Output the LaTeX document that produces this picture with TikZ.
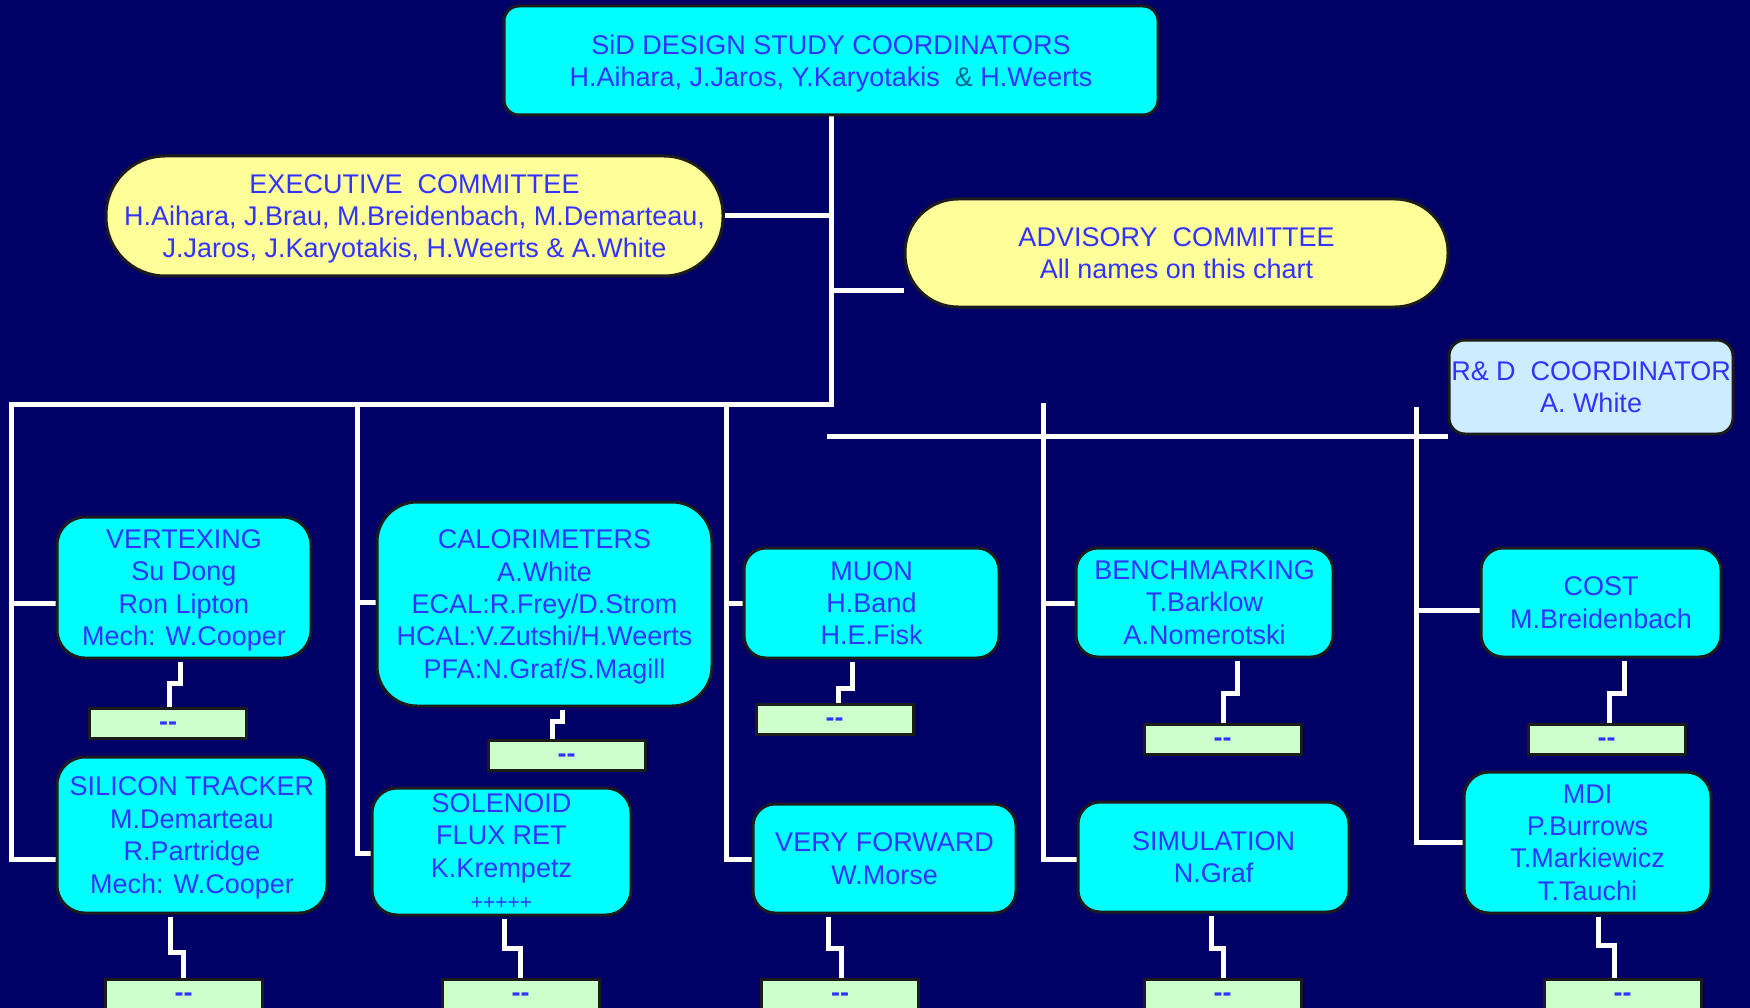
\documentclass[tikz,border=0pt]{standalone}
\usepackage{fontspec}
\setmainfont{Liberation Sans}
\usetikzlibrary{calc}
\definecolor{bgnavy}{RGB}{0,0,102}
\definecolor{txtblue}{RGB}{51,51,255}
\definecolor{boxcyan}{RGB}{0,255,255}
\definecolor{boxyellow}{RGB}{255,255,153}
\definecolor{boxrd}{RGB}{204,236,255}
\definecolor{boxgreen}{RGB}{204,255,204}
\definecolor{boxedge}{RGB}{28,28,28}
\definecolor{ampteal}{RGB}{0,102,140}
\pgfdeclarelayer{back}
\pgfsetlayers{back,main}
\tikzset{
  lbl/.style={text=txtblue, align=center, inner sep=0pt, text depth=0pt, font=\fontsize{27}{32.4}\selectfont},
  unitbox/.style={lbl, draw=boxedge, line width=3pt, fill=boxcyan},
  committee/.style={lbl, draw=boxedge, line width=3pt, fill=boxyellow},
  rdbox/.style={lbl, draw=boxedge, line width=3pt, fill=boxrd},
  taskbox/.style={lbl, draw=boxedge, line width=3pt, fill=boxgreen, minimum width=157pt, minimum height=30pt, text height=14pt, font=\fontsize{27}{32.4}\selectfont\bfseries},
  wire/.style={draw=white, line width=5pt},
}
\begin{document}
\begin{tikzpicture}[x=1pt,y=-1pt]
\useasboundingbox (0,0) rectangle (1750,1008);

% boxes
\node[unitbox, minimum width=654pt, minimum height=109pt, rounded corners=15pt] (top) at (831,60.5)
  {SiD DESIGN STUDY COORDINATORS\\H.Aihara, J.Jaros, Y.Karyotakis~~{\color{ampteal}\&} H.Weerts};
\node[committee, minimum width=617pt, minimum height=120pt, rounded corners=59pt] (exec) at (414.5,216)
  {EXECUTIVE~~COMMITTEE\\H.Aihara, J.Brau, M.Breidenbach, M.Demarteau,\\J.Jaros, J.Karyotakis, H.Weerts \& A.White};
\node[committee, minimum width=543pt, minimum height=108pt, rounded corners=53pt] (adv) at (1176.5,253)
  {ADVISORY~~COMMITTEE\\All names on this chart};
\node[rdbox, minimum width=284pt, minimum height=94pt, rounded corners=16pt] (rd) at (1591,387)
  {R\& D~~COORDINATOR\\A. White};

\node[unitbox, minimum width=254pt, minimum height=141pt, rounded corners=28pt] (vtx) at (184,587.5)
  {VERTEXING\\Su Dong\\Ron Lipton\\Mech: W.Cooper};
\node[unitbox, minimum width=270pt, minimum height=156pt, rounded corners=28pt] (sil) at (192,835)
  {SILICON TRACKER\\M.Demarteau\\R.Partridge\\Mech: W.Cooper};
\node[unitbox, minimum width=335pt, minimum height=204pt, rounded corners=40pt] (cal) at (544.5,604)
  {CALORIMETERS\\A.White\\ECAL:R.Frey/D.Strom\\HCAL:V.Zutshi/H.Weerts\\PFA:N.Graf/S.Magill};
\node[unitbox, minimum width=259pt, minimum height=127pt, rounded corners=25pt] (sol) at (501.5,851.5)
  {SOLENOID\\FLUX RET\\K.Krempetz\\{\fontsize{21}{32.4}\selectfont +++++}};
\node[unitbox, minimum width=255pt, minimum height=110pt, rounded corners=22pt] (muon) at (871.5,603)
  {MUON\\H.Band\\H.E.Fisk};
\node[unitbox, minimum width=263pt, minimum height=109pt, rounded corners=22pt] (vf) at (884.5,858.5)
  {VERY FORWARD\\W.Morse};
\node[unitbox, minimum width=257pt, minimum height=109pt, rounded corners=22pt] (bench) at (1204.5,602.5)
  {BENCHMARKING\\T.Barklow\\A.Nomerotski};
\node[unitbox, minimum width=271pt, minimum height=110pt, rounded corners=22pt] (sim) at (1213.5,857)
  {SIMULATION\\N.Graf};
\node[unitbox, minimum width=240pt, minimum height=109pt, rounded corners=22pt] (cost) at (1601,602.5)
  {COST\\M.Breidenbach};
\node[unitbox, minimum width=247pt, minimum height=141pt, rounded corners=25pt] (mdi) at (1587.5,842.5)
  {MDI\\P.Burrows\\T.Markiewicz\\T.Tauchi};

% task boxes
\node[taskbox] (g1) at (168,723) {{-}{-}};
\node[taskbox] (g2) at (566.5,755) {{-}{-}};
\node[taskbox] (g3) at (834.5,719) {{-}{-}};
\node[taskbox] (g4) at (1222.5,739) {{-}{-}};
\node[taskbox] (g5) at (1606.5,739) {{-}{-}};
\node[taskbox] (b1) at (183.5,994) {{-}{-}};
\node[taskbox] (b2) at (520.5,994) {{-}{-}};
\node[taskbox] (b3) at (840,994) {{-}{-}};
\node[taskbox] (b4) at (1222.5,994) {{-}{-}};
\node[taskbox] (b5) at (1622.5,994) {{-}{-}};

\begin{pgfonlayer}{back}
\fill[bgnavy] (0,0) rectangle (1750,1008);
% trunk and main bus
\draw[wire] (top.south) -- (top.south |- 0,404) -- (11,404) -- (11,859) -- (sil.west |- 0,859);
\draw[wire] (11,603) -- (vtx.west |- 0,603);
\draw[wire] (exec.east) -- (exec.east -| top.south);
\draw[wire] (top.south |- 0,290) -- (adv.west |- 0,290);
\draw[wire] (357.5,404) -- (357.5,853) -- (sol.west |- 0,853);
\draw[wire] (357.5,602) -- (cal.west |- 0,602);
\draw[wire] (726.5,404) -- (726.5,859) -- (vf.west |- 0,859);
\draw[wire] (726.5,603) -- (muon.west |- 0,603);
% right bus
\draw[wire] (827,436) -- (rd.west |- 0,436);
\draw[wire] (1043.5,403) -- (1043.5,859) -- (sim.west |- 0,859);
\draw[wire] (1043.5,603) -- (bench.west |- 0,603);
\draw[wire] (1416,407) -- (1416,842) -- (mdi.west |- 0,842);
\draw[wire] (1416,610) -- (cost.west |- 0,610);
% steps to task boxes
\draw[wire] ($(vtx.south)+(-4,2)$) -- ++(0,22) -| ($(g1.north)+(1,0)$);
\draw[wire] ($(cal.south)+(17.5,2)$) -- ++(0,12) -| ($(g2.north)+(-14.5,0)$);
\draw[wire] ($(muon.south)+(-19.5,2)$) -- ++(0,27) -| ($(g3.north)+(3.5,0)$);
\draw[wire] ($(bench.south)+(33,2)$) -- ++(0,33) -| ($(g4.north)+(0.5,0)$);
\draw[wire] ($(cost.south)+(23,2)$) -- ++(0,33) -| ($(g5.north)+(2.5,0)$);
\draw[wire] ($(sil.south)+(-22,2)$) -- ++(0,36) -| ($(b1.north)+(-0.5,0)$);
\draw[wire] ($(sol.south)+(2.5,2)$) -- ++(0,30) -| ($(b2.north)+(-0.5,0)$);
\draw[wire] ($(vf.south)+(-56.5,2)$) -- ++(0,32) -| ($(b3.north)+(1,0)$);
\draw[wire] ($(sim.south)+(-2.5,2)$) -- ++(0,33) -| ($(b4.north)+(0.5,0)$);
\draw[wire] ($(mdi.south)+(10.5,2)$) -- ++(0,29) -| ($(b5.north)+(-8.5,0)$);
\end{pgfonlayer}
\end{tikzpicture}
\end{document}
